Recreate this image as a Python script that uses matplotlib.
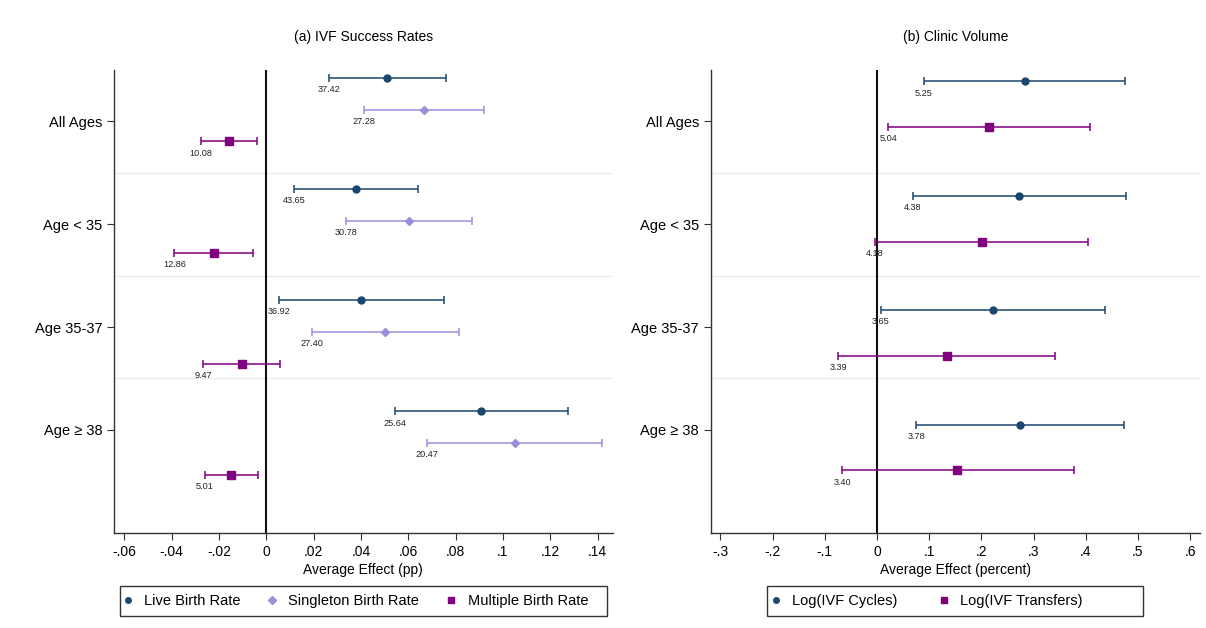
import numpy as np
import matplotlib
matplotlib.use("Agg")
import matplotlib.pyplot as plt
from matplotlib.lines import Line2D
from matplotlib.patches import Rectangle

plt.rcParams['font.family'] = ['Liberation Sans', 'DejaVu Sans']

groups = ["All Ages", "Age < 35", "Age 35-37", "Age \u2265 38"]

# panel (a): IVF success rates
live_est = [0.0511, 0.0379, 0.0401, 0.0907]
live_lo = [0.0265, 0.0116, 0.0055, 0.0542]
live_hi = [0.0758, 0.0641, 0.0749, 0.1273]
live_mean = ["37.42", "43.65", "36.92", "25.64"]

single_est = [0.0668, 0.0603, 0.0502, 0.1049]
single_lo = [0.0414, 0.0335, 0.0193, 0.0680]
single_hi = [0.0921, 0.0870, 0.0813, 0.1420]
single_mean = ["27.28", "30.78", "27.40", "20.47"]

multi_est = [-0.0156, -0.0222, -0.0104, -0.0148]
multi_lo = [-0.0276, -0.0389, -0.0267, -0.0259]
multi_hi = [-0.0039, -0.0056, 0.0059, -0.0036]
multi_mean = ["10.08", "12.86", "9.47", "5.01"]

# panel (b): clinic volume
cycles_est = [0.2828, 0.2727, 0.2222, 0.2733]
cycles_lo = [0.0894, 0.0683, 0.0077, 0.0753]
cycles_hi = [0.4757, 0.4764, 0.4374, 0.4725]
cycles_mean = ["5.25", "4.38", "3.65", "3.78"]

transfers_est = [0.2151, 0.2005, 0.1334, 0.1539]
transfers_lo = [0.0217, -0.0038, -0.0741, -0.0665]
transfers_hi = [0.4074, 0.4042, 0.3416, 0.3767]
transfers_mean = ["5.04", "4.18", "3.39", "3.40"]

navy = "#1a476f"
lavender = "#9a8fd8"
purple = "#800080"

fig = plt.figure(figsize=(12.06, 6.28), dpi=100)
W, H = 1206, 628


def px_axes(x0, y0, x1, y1):
    return fig.add_axes([x0 / W, 1 - y1 / H, (x1 - x0) / W, (y1 - y0) / H])


def draw_series(ax, ypos, est, lo, hi, labels, color, marker, ms):
    est = np.array(est)
    err = [est - np.array(lo), np.array(hi) - est]
    ax.errorbar(est, ypos, xerr=err, fmt=marker, color=color, ms=ms,
                elinewidth=1.1, capsize=2.6, capthick=1.1, zorder=3)
    for x, y, t in zip(lo, ypos, labels):
        ax.annotate(t, (x, y), xytext=(0, -8.5), textcoords="offset points",
                    ha="center", va="center", fontsize=6.6, color="#222222")


def style(ax, xlim, ticks, ticklabels, xlabel, title):
    ax.set_ylim(4.0, -0.5)
    ax.set_xlim(*xlim)
    for s in ["top", "right"]:
        ax.spines[s].set_visible(False)
    for s in ["left", "bottom"]:
        ax.spines[s].set_color("#333333")
        ax.spines[s].set_linewidth(1.0)
    ax.set_yticks(range(len(groups)))
    ax.set_yticklabels(groups, fontsize=10.5)
    ax.set_xticks(ticks)
    ax.set_xticklabels(ticklabels, fontsize=10)
    ax.tick_params(direction="out", length=5, width=0.8, color="#333333")
    ax.tick_params(axis="x", pad=4)
    for sep in [0.5, 1.5, 2.5]:
        ax.axhline(sep, color="#e8eff2", lw=1.0, zorder=0)
    ax.axvline(0, color="#111111", lw=1.5, zorder=1)
    ax.set_xlabel(xlabel, fontsize=10, labelpad=3)
    ax.set_title(title, fontsize=10, pad=21)


# left panel
axL = px_axes(114, 70, 612.7, 532.7)
step = 0.3087
base = -0.4226
offs = [g * 3.5 * step for g in range(4)]
yl = [np.array([base + o + k * step for o in offs]) for k in range(3)]
draw_series(axL, yl[0], live_est, live_lo, live_hi, live_mean, navy, "o", 5)
draw_series(axL, yl[1], single_est, single_lo, single_hi, single_mean, lavender, "D", 4.5)
draw_series(axL, yl[2], multi_est, multi_lo, multi_hi, multi_mean, purple, "s", 5.5)
lt = [-0.06, -0.04, -0.02, 0, 0.02, 0.04, 0.06, 0.08, 0.1, 0.12, 0.14]
style(axL, (-0.0644, 0.1464), lt,
      ["-.06", "-.04", "-.02", "0", ".02", ".04", ".06", ".08", ".1", ".12", ".14"],
      "Average Effect (pp)", "(a) IVF Success Rates")

# right panel
axR = px_axes(710.7, 70, 1200, 532.7)
step = 0.445
base = -0.389
offs = [g * 2.5 * step for g in range(4)]
yr = [np.array([base + o + k * step for o in offs]) for k in range(2)]
draw_series(axR, yr[0], cycles_est, cycles_lo, cycles_hi, cycles_mean, navy, "o", 5)
draw_series(axR, yr[1], transfers_est, transfers_lo, transfers_hi, transfers_mean, purple, "s", 5.5)
rt = [-0.3, -0.2, -0.1, 0, 0.1, 0.2, 0.3, 0.4, 0.5, 0.6]
style(axR, (-0.3186, 0.619), rt,
      ["-.3", "-.2", "-.1", "0", ".1", ".2", ".3", ".4", ".5", ".6"],
      "Average Effect (percent)", "(b) Clinic Volume")


def handle(color, marker, ms):
    return Line2D([], [], ls="none", marker=marker, color=color, ms=ms)


def frame(x0, y0, x1, y1):
    fig.patches.append(Rectangle((x0 / W, 1 - y1 / H), (x1 - x0) / W, (y1 - y0) / H,
                                 transform=fig.transFigure, fill=False,
                                 edgecolor="#333333", lw=1.0))


fig.legend([handle(navy, "o", 4), handle(lavender, "D", 3.6), handle(purple, "s", 4.3)],
           ["Live Birth Rate", "Singleton Birth Rate", "Multiple Birth Rate"],
           loc="center left", bbox_to_anchor=(122 / W, 1 - 601 / H), ncol=3,
           fontsize=10.5, frameon=False, handlelength=0.8, handletextpad=0.7,
           columnspacing=1.8, borderpad=0, borderaxespad=0)
frame(120, 586, 606.7, 616)

fig.legend([handle(navy, "o", 4), handle(purple, "s", 4.3)],
           ["Log(IVF Cycles)", "Log(IVF Transfers)"],
           loc="center left", bbox_to_anchor=(770 / W, 1 - 601 / H), ncol=2,
           fontsize=10.5, frameon=False, handlelength=0.8, handletextpad=0.7,
           columnspacing=2.8, borderpad=0, borderaxespad=0)
frame(767.3, 586, 1143.3, 616)

fig.savefig("out.png", dpi=100)
